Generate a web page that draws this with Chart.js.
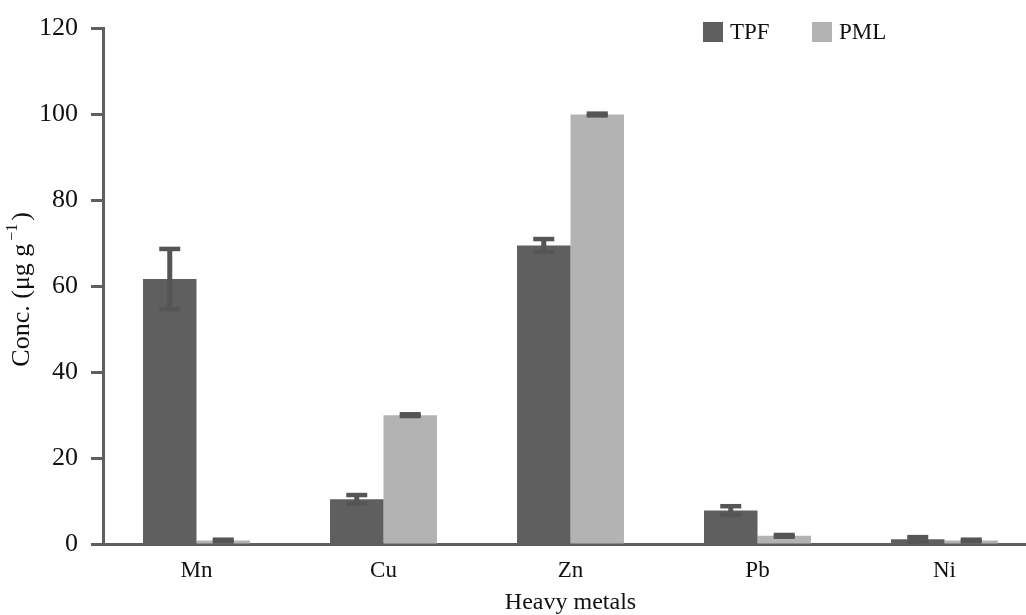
<!DOCTYPE html>
<html>
<head>
<meta charset="utf-8">
<script src="https://cdn.jsdelivr.net/npm/chart.js@4.4.1/dist/chart.umd.min.js"></script>
<style>
  html, body { margin: 0; padding: 0; background: #fff; overflow: hidden; }
  #wrap { width: 1040px; height: 615px; }
  canvas { display: block; }
</style>
</head>
<body>
<div id="wrap"><canvas id="c" width="1040" height="615"></canvas></div>
<script>
// Heavy-metal concentrations (µg g⁻¹), mean and standard error
const metals = ['Mn', 'Cu', 'Zn', 'Pb', 'Ni'];
const tpfMean = [61.7, 10.4, 69.5, 7.8, 1.1];
const tpfErr  = [7.0, 1.0, 1.5, 1.0, 0.5];
const pmlMean = [0.8, 30.0, 100.0, 1.9, 0.8];
const pmlErr  = [0.2, 0.2, 0.2, 0.2, 0.2];
const seriesNames = ['TPF', 'PML'];
const yTitleParts = ['Conc. (μg g', '−1', ')'];

const FONT = 'Liberation Serif, Times New Roman, serif';
const AXIS_GREY = '#5f5f5f';
const TEXT = '#111';

// Draws mean ± error whiskers on top of each bar
const errorBars = {
  id: 'errorBars',
  afterDatasetsDraw(chart, args, opts) {
    const ctx = chart.ctx;
    const y = chart.scales.y;
    chart.data.datasets.forEach((ds, di) => {
      const meta = chart.getDatasetMeta(di);
      meta.data.forEach((bar, i) => {
        const v = ds.data[i], e = ds.errors[i];
        const yTop = y.getPixelForValue(v + e);
        const yBot = y.getPixelForValue(v - e);
        ctx.save();
        ctx.fillStyle = opts.color;
        const sw = opts.stemWidth, cw = opts.capWidth, ch = opts.capHeight;
        ctx.fillRect(bar.x - sw / 2, yTop, sw, yBot - yTop);
        ctx.fillRect(bar.x - cw / 2, yTop - ch / 2, cw, ch);
        ctx.fillRect(bar.x - cw / 2, yBot - ch / 2, cw, ch);
        ctx.restore();
      });
    });
  }
};

// Simple legend in the upper right of the plot
const boxLegend = {
  id: 'boxLegend',
  afterDraw(chart, args, opts) {
    const ctx = chart.ctx;
    ctx.save();
    ctx.font = opts.fontSize + 'px ' + FONT;
    ctx.textBaseline = 'middle';
    ctx.textAlign = 'left';
    chart.data.datasets.forEach((ds, i) => {
      const x = opts.x[i];
      ctx.fillStyle = ds.backgroundColor;
      ctx.fillRect(x, opts.y - opts.box / 2, opts.box, opts.box);
      ctx.fillStyle = TEXT;
      ctx.fillText(ds.label, x + opts.box + 7, opts.y + 1);
    });
    ctx.restore();
  }
};

// Vertical axis title with a superscript unit exponent
const yTitle = {
  id: 'yTitle',
  afterDraw(chart, args, opts) {
    const ctx = chart.ctx;
    const area = chart.chartArea;
    const big = opts.size + 'px ' + FONT;
    const small = opts.supSize + 'px ' + FONT;
    ctx.save();
    ctx.font = big;
    const w0 = ctx.measureText(yTitleParts[0]).width;
    const w2 = ctx.measureText(yTitleParts[2]).width;
    ctx.font = small;
    const w1 = ctx.measureText(yTitleParts[1]).width;
    const gap = opts.gap;
    const total = w0 + w1 + gap * 2 + w2;
    ctx.translate(opts.x, (area.top + area.bottom) / 2 + opts.dy);
    ctx.rotate(-Math.PI / 2);
    ctx.fillStyle = TEXT;
    ctx.textBaseline = 'middle';
    ctx.textAlign = 'left';
    let x = -total / 2;
    ctx.font = big;
    ctx.fillText(yTitleParts[0], x, 0);
    x += w0 + gap;
    ctx.font = small;
    ctx.fillText(yTitleParts[1], x, -opts.raise);
    x += w1 + gap;
    ctx.font = big;
    ctx.fillText(yTitleParts[2], x, 0);
    ctx.restore();
  }
};

new Chart(document.getElementById('c'), {
  type: 'bar',
  data: {
    labels: metals,
    datasets: [
      { label: seriesNames[0], data: tpfMean, errors: tpfErr, backgroundColor: '#5f5f5f' },
      { label: seriesNames[1], data: pmlMean, errors: pmlErr, backgroundColor: '#b3b3b3' }
    ]
  },
  options: {
    responsive: false,
    animation: false,
    devicePixelRatio: 1,
    layout: { padding: { top: 26, right: 2, left: 0, bottom: 0 } },
    datasets: { bar: { categoryPercentage: 0.572, barPercentage: 1.0, borderWidth: 0 } },
    plugins: {
      legend: { display: false },
      tooltip: { enabled: false },
      errorBars: { color: '#555555', stemWidth: 5, capWidth: 21, capHeight: 4.5 },
      boxLegend: { x: [703, 812], y: 32, box: 20, fontSize: 23 },
      yTitle: { x: 22, dy: 3, size: 26, supSize: 16, raise: 9, gap: 3 }
    },
    scales: {
      x: {
        type: 'category',
        offset: true,
        afterFit(s) { s.height = 71; },
        grid: { display: true, drawOnChartArea: false, drawTicks: false },
        border: { display: true, color: AXIS_GREY, width: 3 },
        ticks: { color: TEXT, font: { family: FONT, size: 23 }, padding: 13 },
        title: { display: true, text: 'Heavy metals', color: TEXT, font: { family: FONT, size: 24, lineHeight: 1.0 }, padding: { top: 0, bottom: 0 } }
      },
      y: {
        min: 0, max: 120,
        afterFit(s) { s.width = 103; },
        grid: { display: true, drawOnChartArea: false, drawTicks: true, tickLength: 12, tickColor: AXIS_GREY, tickWidth: 3 },
        border: { display: true, color: AXIS_GREY, width: 3 },
        ticks: { stepSize: 20, color: TEXT, font: { family: FONT, size: 26 }, padding: 13 },
        title: { display: false }
      }
    }
  },
  plugins: [errorBars, boxLegend, yTitle]
});
</script>
</body>
</html>
